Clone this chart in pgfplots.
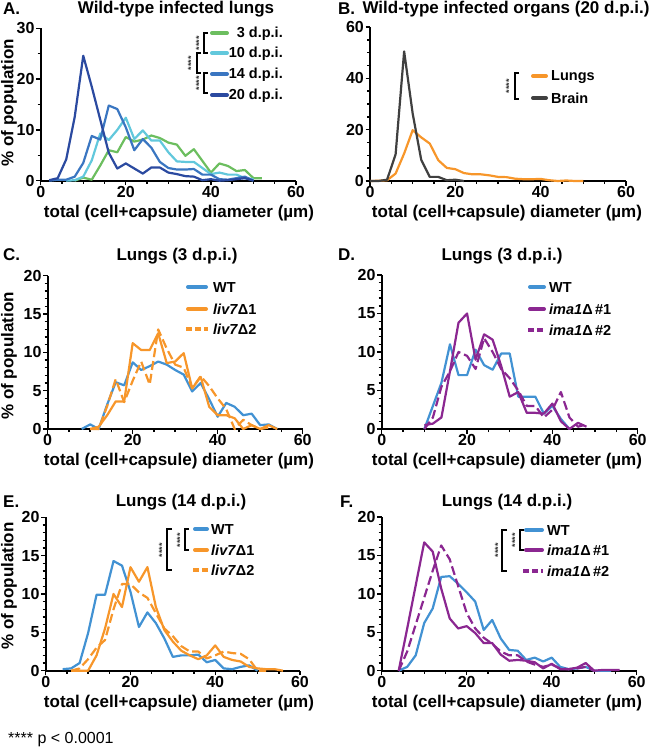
\documentclass[border=0pt]{standalone}
\usepackage{fontspec}
\setmainfont{Liberation Sans}
\usepackage{pgfplots}
\pgfplotsset{compat=1.18}
\newcommand{\fs}[1]{\fontsize{#1}{#1}\selectfont}
\definecolor{cA}{HTML}{6CBE5F}
\definecolor{cB}{HTML}{62C8DC}
\definecolor{cC}{HTML}{3A76C1}
\definecolor{cD}{HTML}{2B4AA0}
\definecolor{wt}{HTML}{4292D3}
\definecolor{orng}{HTML}{F7962A}
\definecolor{purp}{HTML}{8B2791}
\definecolor{gry}{HTML}{404040}
\pgfplotsset{panel/.style={
  scale only axis, anchor=south west,
  axis x line*=bottom, axis y line*=left,
  axis line style={line width=1.8pt,-},
  tick style={line width=1.4pt, black},
  major tick length=4.5pt, minor tick length=3pt,
  tick align=outside,
  xmin=0, xmax=60, ymin=0, xtick={0,20,40,60}, minor x tick num=3,
  /pgf/number format/assume math mode=true,
  tick label style={font=\bfseries\fs{16}},
  xticklabel style={inner sep=1pt}, yticklabel style={inner sep=1.5pt},
  xlabel={total (cell+capsule) diameter (µm)},
  clip=false,
  every axis plot/.append style={line width=2.2pt, line join=round},
 },
 ylab/.style n args={2}{ylabel={\% of population},
   every axis y label/.style={at={([xshift=#1pt,yshift=#2pt]rel axis cs:0,0.5)}, anchor=center, rotate=90, font=\bfseries\fs{17}}},
 xlab/.style={every axis x label/.style={at={([xshift=#1pt,yshift=-32.3pt]rel axis cs:0.5,0)}, anchor=center, font=\bfseries\fs{17}}},
 dsh/.style={dash pattern=on 9pt off 4pt},
}
\newcommand{\brk}[4]{\draw[line width=1.6pt] (#4pt,-#2pt) -- (#1pt,-#2pt) -- (#1pt,-#3pt) -- (#4pt,-#3pt);}
\newcommand{\stars}[2]{\node[rotate=90, font=\bfseries\fs{9}, text=black!80, inner sep=0pt] at (#1pt,-#2pt) {****};}
\newcommand{\lsamp}[4]{\draw[#1, line width=4pt, line cap=round] (#2pt,-#4pt) -- (#3pt,-#4pt);}
\newcommand{\ltext}[3]{\node[anchor=base west, inner sep=0pt, font=\bfseries\fs{14.5}] at (#1pt,-#2pt-5pt) {#3};}
\newcommand{\rtext}[3]{\node[anchor=base east, inner sep=0pt, font=\bfseries\fs{14.5}] at (#1pt,-#2pt-5pt) {#3};}
\newcommand{\ptitle}[3]{\node[anchor=west, inner sep=0pt, font=\bfseries\fs{17}] at (#1pt,-#2pt) {#3};}
\newcommand{\ctitle}[3]{\node[inner sep=0pt, font=\bfseries\fs{17}] at (#1pt,-#2pt) {#3};}
\begin{document}
\begin{tikzpicture}
\path[use as bounding box] (0pt,0pt) rectangle (650pt,-749pt);
% ---------------- A
\begin{axis}[panel, at={(40.7pt,-180.7pt)}, width=255.3pt, height=152.4pt,
  ymax=30, ytick={0,10,20,30}, minor y tick num=1, ylab={-31.7}{1.9}, xlab=10.65]
\addplot[cA] coordinates {(8,0)(10,0.6)(12,0.2)(14,3)(16,6)(18,5.6)(20,8.6)(22,7.7)(24,8.1)(26,8.9)(28,8.4)(30,7.5)(32,7.1)(34,4.9)(36,6.2)(38,3.9)(40,1.6)(42,3.4)(44,2.9)(46,1.9)(48,2.1)(50,0.5)(52,0.5)};
\addplot[cB] coordinates {(6,0)(8,0.1)(10,0.8)(12,4)(14,9.3)(16,8)(18,10)(20,12.4)(22,8.2)(24,9.9)(26,7.9)(28,7.9)(30,5.6)(32,3.8)(34,3.7)(36,3.7)(38,2.5)(40,1.3)(42,1.6)(44,1.2)(46,1.2)(48,0.5)(50,0.3)};
\addplot[cC] coordinates {(2,0)(4,0.2)(6,0.2)(8,0.8)(10,3.5)(12,8.8)(14,8.1)(16,14.8)(18,14.1)(20,10.5)(22,6)(24,8.2)(26,6.5)(28,3.7)(30,2.5)(32,2.2)(34,2.2)(36,2.3)(38,1.2)(40,1.2)(42,0.3)(44,0.2)(46,0.5)(48,0.8)(50,0)};
\addplot[cD] coordinates {(2,0.1)(4,0.5)(6,4.2)(8,12.6)(10,24.6)(12,18.5)(14,12)(16,5.5)(18,2.4)(20,3.4)(22,2.4)(24,1.4)(26,2.6)(28,2.6)(30,1.6)(32,1.3)(34,0.9)(36,0.8)(38,0.1)(40,0.3)(42,0)(44,0.1)(46,0.3)(48,0.5)(50,0)};
\end{axis}
% ---------------- B
\begin{axis}[panel, at={(370pt,-181pt)}, width=256pt, height=154pt,
  ymax=60, ytick={0,20,40,60}, minor y tick num=3, xlab=9]
\addplot[orng] coordinates {(0,0)(2,0.1)(4,0.3)(6,2.9)(8,10.7)(10,19.8)(12,17)(14,14.6)(16,8.1)(18,5.1)(20,4.6)(22,3.1)(24,2.6)(26,2.6)(28,2.2)(30,1.6)(32,1.5)(34,0.9)(36,0.7)(38,0.7)(40,0.8)(42,0.3)(44,0)(46,0.2)(48,0)(50,0)};
\addplot[gry] coordinates {(0,0)(2,0)(4,0.5)(6,10.4)(8,50.5)(10,26.3)(12,8.3)(14,1.6)(16,1.6)(18,0.3)(20,0.5)(22,0)};
\end{axis}
% ---------------- C
\begin{axis}[panel, at={(47.7pt,-429pt)}, width=255pt, height=153.3pt,
  ymax=20, ytick={0,5,10,15,20}, minor y tick num=4, ylab={-38.7}{-3.6}, xlab=3.8]
\addplot[wt] coordinates {(8,0)(10,0.6)(12,0)(14,3.2)(16,6.1)(18,5.7)(20,8.7)(22,7.7)(24,8.2)(26,8.8)(28,8.4)(30,7.7)(32,7.1)(34,4.9)(36,6)(38,3.9)(40,1.6)(42,3.4)(44,2.9)(46,1.8)(48,2)(50,0.5)(52,0.6)(54,0)};
\addplot[orng] coordinates {(10,0)(12,0.3)(14,1.8)(16,3.6)(18,3.6)(20,11.2)(22,10.3)(24,10.3)(26,12.5)(28,8.6)(30,8.8)(32,9.9)(34,5.3)(36,6.8)(38,2.9)(40,1.8)(42,1.8)(44,1.4)(46,0)(48,0.5)(50,0)(52,0.5)(54,0)};
\addplot[orng, dsh] coordinates {(10,0)(12,0)(14,3)(16,6.5)(18,3.5)(20,6.3)(22,8.8)(24,5.8)(26,13)(28,10.5)(30,8.4)(32,8)(34,5.3)(36,6.9)(38,5.6)(40,4)(42,2.6)(44,0)(46,1.2)(48,0.5)(50,0)(52,0.2)};
\end{axis}
% ---------------- D
\begin{axis}[panel, at={(381.7pt,-429pt)}, width=256pt, height=154pt,
  ymax=20, ytick={0,5,10,15,20}, minor y tick num=4, xlab=-2.7]
\addplot[wt] coordinates {(10,0)(12,3)(14,6)(16,11)(18,7)(20,7)(22,10.3)(24,8.3)(26,7.7)(28,9.8)(30,9.8)(32,4.2)(34,4.2)(36,4.2)(38,2)(40,3)(42,1.3)(44,0)};
\addplot[purp] coordinates {(10,0.5)(12,0.7)(14,1.5)(16,7.5)(18,13.8)(20,15)(22,9)(24,12.3)(26,11.6)(28,8.2)(30,4.2)(32,4.8)(34,2.1)(36,2.1)(38,2)(40,3.3)(42,1)(44,0)(46,0.8)(48,0.3)};
\addplot[purp, dsh] coordinates {(10,0)(12,1.5)(14,5.5)(16,7.5)(18,10)(20,9.5)(22,7.8)(24,11.8)(26,10)(28,7.8)(30,6.6)(32,5)(34,3)(36,3)(38,1.5)(40,2.5)(42,4.8)(44,1.5)(46,0.3)(48,0.6)};
\end{axis}
% ---------------- E
\begin{axis}[panel, at={(45.7pt,-670.7pt)}, width=254.3pt, height=153.4pt,
  ymax=20, ytick={0,5,10,15,20}, minor y tick num=4, ylab={-36.7}{8}, xlab=6.15]
\addplot[wt] coordinates {(4,0.2)(6,0.3)(8,1)(10,4.9)(12,9.9)(14,9.9)(16,14.3)(18,13.7)(20,10.3)(22,5.7)(24,7.6)(26,6.2)(28,4.2)(30,1.8)(32,2)(34,2)(36,2.1)(38,1.1)(40,1.4)(42,0.3)(44,0.2)(46,0.5)(48,0.7)(50,0)};
\addplot[orng] coordinates {(6,0)(8,0)(10,0)(12,2)(14,5.5)(16,10)(18,8.3)(20,13.5)(22,11.6)(24,13.5)(26,8.3)(28,5.3)(30,3.8)(32,2.6)(34,2)(36,1.5)(38,2)(40,3.3)(42,1.8)(44,1.4)(46,1.2)(48,0.5)(50,0.3)(52,0.2)(54,0.2)(56,0)};
\addplot[orng, dsh] coordinates {(6,0)(8,0.3)(10,1.5)(12,3)(14,4)(16,8)(18,11.3)(20,11.3)(22,10.2)(24,9.5)(26,7.5)(28,5.5)(30,4.5)(32,3.2)(34,2.5)(36,2.5)(38,1.6)(40,2)(42,2.5)(44,2.3)(46,2.2)(48,1.5)(50,0)(52,0)};
\end{axis}
% ---------------- F
\begin{axis}[panel, at={(381.7pt,-670.7pt)}, width=255pt, height=153.7pt,
  ymax=20, ytick={0,5,10,15,20}, minor y tick num=4, xlab=-2.2]
\addplot[wt] coordinates {(4,0)(6,0.5)(8,2)(10,6.2)(12,8.1)(14,12.2)(16,12.3)(18,11.3)(20,10.2)(22,9)(24,5.3)(26,6.6)(28,4.2)(30,2.7)(32,2.6)(34,1.4)(36,1.7)(38,1.2)(40,1.7)(42,0.5)(44,0.2)(46,0.3)(48,0.5)(50,0)(52,0)(54,0)};
\addplot[purp] coordinates {(4,0)(6,5.5)(8,11.1)(10,16.7)(12,15.5)(14,10.7)(16,6.8)(18,5.5)(20,5.8)(22,4.9)(24,3.6)(26,3.6)(28,2.1)(30,1.3)(32,1.4)(34,1.3)(36,1.1)(38,0.3)(40,0.9)(42,0.2)(44,0.2)(46,0.4)(48,1)(50,0)(52,0.1)(54,0.1)(56,0.1)};
\addplot[purp, dsh] coordinates {(4,0)(6,2.5)(8,6)(10,9.5)(12,13)(14,16.3)(16,14.5)(18,11)(20,7.5)(22,5.5)(24,4.3)(26,3.5)(28,2.5)(30,2)(32,2)(34,1.2)(36,0.8)(38,0.5)(40,0.8)(42,0.3)(44,0.2)(46,0.3)(48,0.5)(50,0)};
\end{axis}
% ---------------- titles
\ptitle{3}{9}{A.}
\ctitle{176}{9}{Wild-type infected lungs}
\ptitle{338}{9}{B.}
\ctitle{506}{9}{Wild-type infected organs (20 d.p.i.)}
\ptitle{3}{255}{C.}
\ctitle{177}{256}{Lungs (3 d.p.i.)}
\ptitle{338}{255}{D.}
\ctitle{502}{256}{Lungs (3 d.p.i.)}
\ptitle{3}{502}{E.}
\ctitle{181}{502}{Lungs (14 d.p.i.)}
\ptitle{340}{502}{F.}
\ctitle{507}{502}{Lungs (14 d.p.i.)}
% ---------------- legends A
\lsamp{cA}{212}{227}{33}\lsamp{cB}{212}{227}{53}\lsamp{cC}{212}{227}{74}\lsamp{cD}{212}{227}{95}
\rtext{283}{33}{3 d.p.i.}\rtext{283}{53}{10 d.p.i.}\rtext{283}{74}{14 d.p.i.}\rtext{283}{95}{20 d.p.i.}
\brk{204}{33}{53}{208}\stars{199}{43}
\brk{197}{53}{73}{201}\stars{191}{63}
\brk{204}{73}{93}{208}\stars{199}{83}
% B
\lsamp{orng}{533}{546}{76}\lsamp{gry}{533}{546}{98}
\ltext{551}{76}{Lungs}\ltext{551}{98}{Brain}
\brk{515}{73}{99}{519}\stars{509}{86}
% C
\lsamp{wt}{188}{206}{287}\lsamp{orng}{188}{206}{309}
\draw[orng, line width=4pt, dash pattern=on 6pt off 3pt] (186pt,-329pt) -- (208pt,-329pt);
\ltext{213}{287}{WT}\ltext{213}{309}{\textit{liv7}Δ1}\ltext{213}{329}{\textit{liv7}Δ2}
% D
\lsamp{wt}{530}{544}{287}\lsamp{purp}{530}{544}{309}
\draw[purp, line width=4pt, dash pattern=on 6pt off 3pt] (528pt,-330pt) -- (546pt,-330pt);
\ltext{549}{287}{WT}\ltext{549}{309}{\textit{ima1}Δ\,\#1}\ltext{549}{330}{\textit{ima1}Δ\,\#2}
% E
\lsamp{wt}{195}{207}{529}\lsamp{orng}{195}{207}{550}
\draw[orng, line width=4pt, dash pattern=on 6pt off 3pt] (193pt,-570pt) -- (209pt,-570pt);
\ltext{211}{529}{WT}\ltext{211}{550}{\textit{liv7}Δ1}\ltext{211}{570}{\textit{liv7}Δ2}
\brk{185}{529}{550}{189}\stars{180}{540}
\brk{167}{529}{570}{172}\stars{162}{550}
% F
\lsamp{wt}{526}{542}{530}\lsamp{purp}{526}{542}{550}
\draw[purp, line width=4pt, dash pattern=on 6pt off 3pt] (523pt,-571pt) -- (543pt,-571pt);
\ltext{547}{530}{WT}\ltext{547}{550}{\textit{ima1}Δ\,\#1}\ltext{547}{571}{\textit{ima1}Δ\,\#2}
\brk{520}{530}{550}{524}\stars{515}{540}
\brk{502}{530}{571}{507}\stars{498}{550}
% footnote
\node[anchor=west, inner sep=0pt, font=\fs{16}] at (8pt,-740pt) {**** p < 0.0001};
\end{tikzpicture}
\end{document}
